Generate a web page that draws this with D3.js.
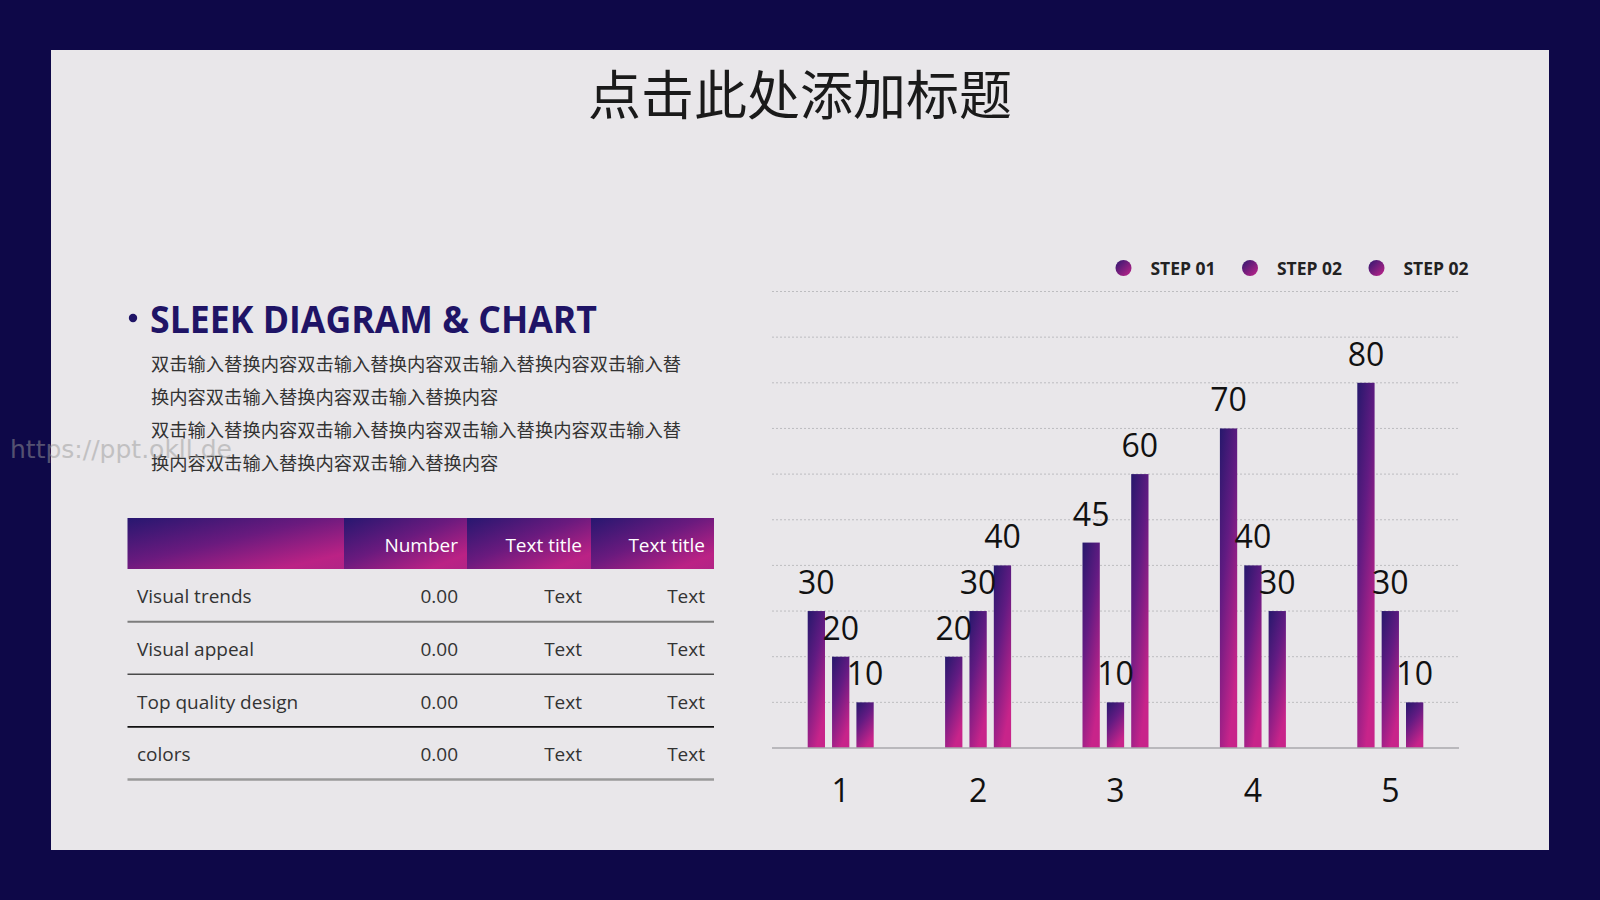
<!DOCTYPE html>
<html>
<head>
<meta charset="utf-8">
<script src="https://cdn.jsdelivr.net/npm/d3@7"></script>
<style>
  html, body { margin: 0; padding: 0; background: #0e0848; }
  svg { display: block; }
</style>
</head>
<body>
<svg id="chart" width="1600" height="900"></svg>
<script>
// ---------- data ----------
const categories = ["1", "2", "3", "4", "5"];
const seriesNames = ["STEP 01", "STEP 02", "STEP 02"];
const step01 = [30, 20, 45, 70, 80];
const step02 = [20, 30, 10, 40, 30];
const step03 = [10, 40, 60, 30, 10];
const yTicks = [10, 20, 30, 40, 50, 60, 70, 80, 90, 100];

const titleText = "点击此处添加标题";
const headingText = "SLEEK DIAGRAM & CHART";
const paragraphLines = [
  "双击输入替换内容双击输入替换内容双击输入替换内容双击输入替",
  "换内容双击输入替换内容双击输入替换内容",
  "双击输入替换内容双击输入替换内容双击输入替换内容双击输入替",
  "换内容双击输入替换内容双击输入替换内容"
];
const tableHeaders = ["", "Number", "Text title", "Text title"];
const rowLabels = ["Visual trends", "Visual appeal", "Top quality design", "colors"];
const numberCol = ["0.00", "0.00", "0.00", "0.00"];
const textCol1 = ["Text", "Text", "Text", "Text"];
const textCol2 = ["Text", "Text", "Text", "Text"];
const watermark = "https://ppt.okll.de";

// ---------- setup ----------
const svg = d3.select("#chart");
const W = 1600, H = 900;
const defs = svg.append("defs");

function makeGrad(id, x2, y2, stops) {
  const g = defs.append("linearGradient").attr("id", id)
    .attr("x1", 0).attr("y1", 0).attr("x2", x2).attr("y2", y2);
  stops.forEach(s => g.append("stop").attr("offset", s[0]).attr("stop-color", s[1]));
}
makeGrad("barGrad", 0.5, 1, [[0, "#26186c"], [0.45, "#621b82"], [1, "#c8248a"]]);
makeGrad("headGrad", 1, 1, [[0, "#271770"], [0.45, "#6a1a7e"], [0.85, "#bb2285"], [1, "#b22486"]]);
makeGrad("dotGrad", 1, 1, [[0, "#2e1870"], [1, "#c2248a"]]);

// background
svg.append("rect").attr("width", W).attr("height", H).attr("fill", "#0e0848");
svg.append("rect").attr("x", 51).attr("y", 50).attr("width", 1498).attr("height", 800).attr("fill", "#e9e7ea");

// title
svg.append("text").attr("x", 800).attr("y", 92)
  .attr("text-anchor", "middle").attr("dominant-baseline", "central")
  .attr("font-family", "'Noto Sans CJK SC'").attr("font-size", 53)
  .attr("fill", "#1a1a1a").text(titleText);

// ---------- left text ----------
svg.append("circle").attr("cx", 133).attr("cy", 318).attr("r", 4.2).attr("fill", "#1f1466");
svg.append("text").attr("x", 150).attr("y", 333)
  .attr("font-family", "'Open Sans'").attr("font-weight", 700).attr("font-size", 38)
  .attr("textLength", 447).attr("lengthAdjust", "spacingAndGlyphs")
  .attr("fill", "#1f1466").text(headingText);

svg.append("g").selectAll("text").data(paragraphLines).join("text")
  .attr("x", 151).attr("y", (d, i) => 363 + i * 33)
  .attr("dominant-baseline", "central")
  .attr("font-family", "'Noto Sans CJK SC'").attr("font-size", 18.3)
  .attr("fill", "#333").text(d => d);

// ---------- table ----------
const colEdges = [127.5, 344, 467, 591, 714];
const colX = d3.scaleOrdinal().domain([0, 1, 2, 3]).range(colEdges.slice(0, 4));
const colW = i => colEdges[i + 1] - colEdges[i];
const rowY = d3.scaleBand().domain(d3.range(rowLabels.length)).range([569, 779.5]);
const headTop = 518, headBottom = 569;

const tbl = svg.append("g");
tbl.selectAll("rect.head").data(tableHeaders).join("rect").attr("class", "head")
  .attr("x", (d, i) => colX(i)).attr("y", headTop)
  .attr("width", (d, i) => colW(i)).attr("height", headBottom - headTop)
  .attr("fill", "url(#headGrad)");
tbl.selectAll("text.head").data(tableHeaders).join("text").attr("class", "head")
  .attr("x", (d, i) => colX(i) + colW(i) - 9).attr("y", (headTop + headBottom) / 2 + 1)
  .attr("text-anchor", "end").attr("dominant-baseline", "central")
  .attr("font-family", "'Open Sans'").attr("font-size", 19).attr("fill", "#fff")
  .text(d => d);

const rows = rowLabels.map((l, i) => [l, numberCol[i], textCol1[i], textCol2[i]]);
const lineStyles = [["#7d7d7d", 2], ["#4a4a4a", 1.6], ["#111", 1.6], ["#9a9a9a", 2.6]];
rows.forEach((r, i) => {
  const cy = rowY(i) + rowY.bandwidth() / 2 + 1;
  tbl.append("text").attr("x", 137).attr("y", cy)
    .attr("dominant-baseline", "central")
    .attr("font-family", "'Open Sans'").attr("font-size", 19).attr("fill", "#333")
    .text(r[0]);
  [1, 2, 3].forEach(c => {
    tbl.append("text").attr("x", colX(c) + colW(c) - 9).attr("y", cy)
      .attr("text-anchor", "end").attr("dominant-baseline", "central")
      .attr("font-family", "'Open Sans'").attr("font-size", 19).attr("fill", "#333")
      .text(r[c]);
  });
  tbl.append("line").attr("x1", 127.5).attr("x2", 714)
    .attr("y1", rowY(i) + rowY.bandwidth()).attr("y2", rowY(i) + rowY.bandwidth())
    .attr("stroke", lineStyles[i][0]).attr("stroke-width", lineStyles[i][1]);
});

// ---------- bar chart ----------
const plotL = 772, plotR = 1459, plotB = 748, plotT = 291.5;
const x0 = d3.scaleBand().domain(categories).range([plotL, plotR]).padding(0);
const x1 = d3.scaleBand().domain(d3.range(3)).range([-33, 33]).paddingInner(0.29);
const y = d3.scaleLinear().domain([0, 100]).range([plotB, plotT]);

const chart = svg.append("g");
chart.append("g").selectAll("line").data(yTicks).join("line")
  .attr("x1", plotL).attr("x2", plotR)
  .attr("y1", d => y(d)).attr("y2", d => y(d))
  .attr("stroke", "#bdbdc0").attr("stroke-width", 1).attr("stroke-dasharray", "2,2");

const seriesVals = [step01, step02, step03];
const barData = [];
categories.forEach((c, ci) => seriesVals.forEach((s, si) => barData.push({ c, si, v: s[ci] })));

const bx = d => x0(d.c) + x0.bandwidth() / 2 + x1(d.si);
chart.append("g").selectAll("rect").data(barData).join("rect")
  .attr("x", bx).attr("y", d => y(d.v))
  .attr("width", x1.bandwidth()).attr("height", d => plotB - y(d.v))
  .attr("fill", "url(#barGrad)");

chart.append("line").attr("x1", plotL).attr("x2", plotR)
  .attr("y1", plotB).attr("y2", plotB).attr("stroke", "#a9a9ad").attr("stroke-width", 1.3);

chart.append("g").selectAll("text").data(barData).join("text")
  .attr("x", d => bx(d) + x1.bandwidth() / 2).attr("y", d => y(d.v) - 17)
  .attr("text-anchor", "middle")
  .attr("font-family", "'Open Sans'").attr("font-size", 32).attr("fill", "#111")
  .text(d => d.v);

// x axis labels
const xAxis = d3.axisBottom(x0).tickSize(0).tickPadding(0);
const xg = chart.append("g").attr("transform", `translate(0,${plotB})`).call(xAxis);
xg.select(".domain").remove();
xg.selectAll("text").attr("y", 54).attr("dy", null)
  .attr("font-family", "'Open Sans'").attr("font-size", 32).attr("fill", "#111");

// legend
const legX = [1123.5, 1250, 1376.5];
const leg = svg.append("g").selectAll("g").data(seriesNames).join("g")
  .attr("transform", (d, i) => `translate(${legX[i]},268)`);
leg.append("circle").attr("r", 8).attr("fill", "url(#dotGrad)");
leg.append("text").attr("x", 27).attr("y", 0).attr("dominant-baseline", "central")
  .attr("font-family", "'Open Sans'").attr("font-weight", 700).attr("font-size", 18)
  .attr("textLength", 65).attr("lengthAdjust", "spacingAndGlyphs")
  .attr("fill", "#222").text(d => d);

// watermark (drawn faintly over the page, as in the reference)
svg.append("text").attr("x", 10).attr("y", 449).attr("dominant-baseline", "central")
  .attr("font-family", "'DejaVu Sans'").attr("font-size", 25)
  .attr("fill", "#9a9a9a").attr("opacity", 0.5).text(watermark);
</script>
</body>
</html>
